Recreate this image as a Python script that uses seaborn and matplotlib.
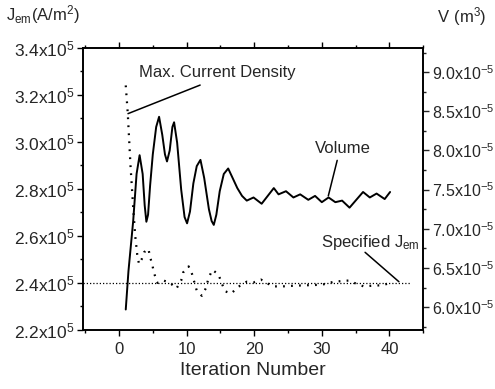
import matplotlib
matplotlib.use("Agg")
import matplotlib.pyplot as plt
from matplotlib.ticker import MultipleLocator
import seaborn as sns
import pandas as pd

# Volume (solid line, right axis), units 1e-5 m^3
vol_iter = [1.0, 1.4, 2.1, 2.6, 3.05, 3.5, 3.8, 4.05, 4.3, 4.6, 5.0, 5.5, 5.93, 6.4, 6.8,
            7.1, 7.5, 7.9, 8.15, 8.6, 9.2, 9.7, 10.07, 10.5, 11.0, 11.5, 12.05, 12.6, 13.3,
            13.7, 14.02, 14.4, 14.9, 15.5, 16.15, 16.8, 17.5, 18.2, 18.9, 19.9, 21.1, 22.0, 22.9,
            23.6, 24.7, 25.8, 26.8, 28.0, 29.0, 30.0, 31.0, 32.0, 33.0, 34.1, 35.0,
            36.1, 37.1, 38.1, 39.3, 40.1]
vol_val = [5.97, 6.46, 7.10, 7.70, 7.94, 7.70, 7.30, 7.09, 7.18, 7.55, 7.95, 8.30, 8.43, 8.20, 7.95,
           7.86, 8.00, 8.30, 8.36, 8.10, 7.50, 7.15, 7.07, 7.22, 7.58, 7.80, 7.88, 7.65, 7.25,
           7.10, 7.05, 7.18, 7.48, 7.70, 7.77, 7.65, 7.52, 7.42, 7.36, 7.40, 7.32, 7.42, 7.52,
           7.44, 7.48, 7.40, 7.44, 7.37, 7.42, 7.34, 7.40, 7.34, 7.36, 7.27, 7.36,
           7.47, 7.40, 7.45, 7.38, 7.47]

# Max. current density (dotted line, left axis), units 1e5 A/m^2
j_iter = [1.0, 1.3, 1.7, 2.1, 2.4, 2.7, 2.96, 3.35, 3.7, 4.35, 4.6, 4.9, 5.2, 5.7, 6.6,
          7.55, 8.5, 9.2, 9.5, 10.3, 10.8, 11.5, 12.25, 12.9, 13.2, 13.8, 14.7, 15.2,
          15.7, 16.6, 17.7, 18.9, 19.9, 21.0, 21.9, 22.9, 24.2, 26.0, 28.0, 30.0, 31.8,
          34.0, 35.2, 36.2, 37.5, 39.0, 39.9]
j_val = [3.24, 3.12, 2.90, 2.72, 2.60, 2.52, 2.48, 2.50, 2.53, 2.545, 2.51, 2.48, 2.44, 2.40, 2.41,
         2.40, 2.376, 2.41, 2.445, 2.47, 2.438, 2.367, 2.345, 2.38, 2.417, 2.455, 2.437, 2.398,
         2.364, 2.355, 2.384, 2.405, 2.402, 2.414, 2.398, 2.385, 2.385, 2.388, 2.39, 2.392, 2.405,
         2.41, 2.395, 2.385, 2.388, 2.39, 2.398]

j_specified = 2.4e5

x_ticks = [0, 10, 20, 30, 40]
j_ticks = [2.2e5, 2.4e5, 2.6e5, 2.8e5, 3.0e5, 3.2e5, 3.4e5]
j_labels = ["2.2", "2.4", "2.6", "2.8", "3.0", "3.2", "3.4"]
v_ticks = [6.0e-5, 6.5e-5, 7.0e-5, 7.5e-5, 8.0e-5, 8.5e-5, 9.0e-5]
v_labels = ["6.0", "6.5", "7.0", "7.5", "8.0", "8.5", "9.0"]

sns.set_style("ticks")
plt.rcParams['font.family'] = ['Liberation Sans', 'DejaVu Sans']
plt.rcParams['mathtext.fontset'] = 'custom'
plt.rcParams['mathtext.rm'] = 'Liberation Sans'

df_v = pd.DataFrame({"it": vol_iter, "V": [v * 1e-5 for v in vol_val]})
df_j = pd.DataFrame({"it": j_iter, "J": [v * 1e5 for v in j_val]})

fig = plt.figure(figsize=(4.95, 3.89), dpi=100)
ax = fig.add_axes([0.168, 0.152, 0.687, 0.725])
ax2 = ax.twinx()

sns.lineplot(data=df_j, x="it", y="J", ax=ax, color="black", lw=1.6,
             estimator=None, sort=False)
ax.lines[-1].set_dashes([0.8, 2.8])
ax.axhline(j_specified, xmin=0, xmax=(43 + 5.3) / 50.3, color="black", lw=0.9, ls=(0, (1, 1.6)))

sns.lineplot(data=df_v, x="it", y="V", ax=ax2, color="black", lw=1.4,
             estimator=None, sort=False)

ax.set_xlim(-5.3, 45)
ax.set_ylim(2.2e5, 3.4e5)
ax2.set_ylim(5.71e-5, 9.31e-5)

ax.set_xticks(x_ticks)
ax.set_xticklabels([str(t) for t in x_ticks], fontsize=12)
ax.xaxis.set_minor_locator(MultipleLocator(5))
ax.set_yticks(j_ticks)
ax.set_yticklabels([r"$\mathregular{%sx10^{5}}$" % l for l in j_labels], fontsize=12.5)
ax.yaxis.set_minor_locator(MultipleLocator(0.1e5))
ax2.set_yticks(v_ticks)
ax2.set_yticklabels([r"$\mathregular{%sx10^{-5}}$" % l for l in v_labels], fontsize=11.5)
ax2.yaxis.set_minor_locator(MultipleLocator(0.25e-5))

ax.tick_params(axis="both", which="major", length=4, width=1, color="black", pad=2)
ax.tick_params(axis="both", which="minor", length=2.5, width=1, color="black")
ax.tick_params(axis="x", which="major", pad=5)
ax.tick_params(axis="x", top=True, which="both")
ax2.tick_params(axis="y", which="major", length=4, width=1, pad=2)
ax2.tick_params(axis="y", which="minor", length=2.5, width=1)

for a in (ax, ax2):
    for s in a.spines.values():
        s.set_visible(True)
        s.set_color("black")
        s.set_linewidth(1.2)

ax.set_xlabel("Iteration Number", fontsize=14, labelpad=3)
ax.set_ylabel("")
ax2.set_ylabel("")

fig.text(0.012, 0.962, r"$\mathregular{J_{em}(A/m^{2})}$", fontsize=12, ha="left", va="center")
fig.text(0.882, 0.958, r"$\mathregular{V\ (m^{3})}$", fontsize=12, ha="left", va="center")

ax.text(0.165, 0.911, "Max. Current Density", transform=ax.transAxes, fontsize=12,
        ha="left", va="center")
ax.annotate("", xy=(1.33, 3.12e5), xytext=(0.344, 0.868), textcoords="axes fraction",
            arrowprops=dict(arrowstyle="-", lw=1.1, color="black", shrinkA=0, shrinkB=0))

ax.text(0.765, 0.644, "Volume", transform=ax.transAxes, fontsize=12, ha="center", va="center")
ax2.annotate("", xy=(30.96, 7.42e-5), xytext=(0.747, 0.601), textcoords="axes fraction",
             arrowprops=dict(arrowstyle="-", lw=1.1, color="black", shrinkA=0, shrinkB=0))

ax.text(0.844, 0.31, r"Specified $\mathregular{J_{em}}$", transform=ax.transAxes, fontsize=12,
        ha="center", va="center")
ax.annotate("", xy=(41.4, 2.405e5), xytext=(0.829, 0.275), textcoords="axes fraction",
            arrowprops=dict(arrowstyle="-", lw=1.1, color="black", shrinkA=0, shrinkB=0))

fig.savefig("out.png", dpi=100)
